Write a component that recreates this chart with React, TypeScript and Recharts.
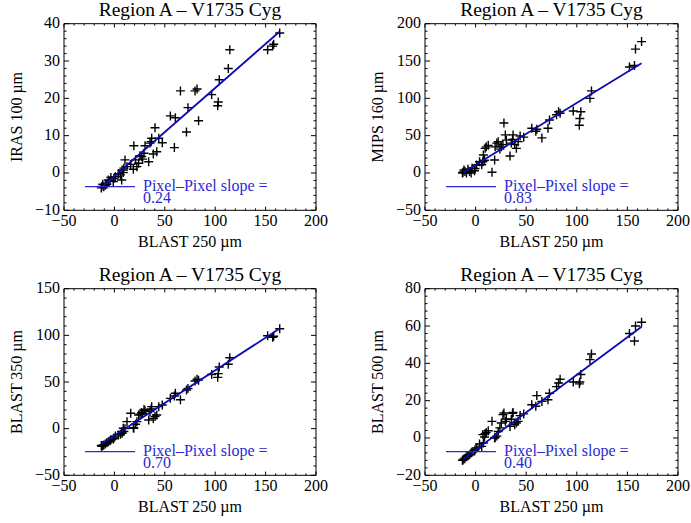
import React from "react";
import { ScatterChart, Scatter, XAxis, YAxis } from "recharts";

// BLAST 250 um pixel values, shared x for all four panels
const blast250 = [
  164, 158, 157, 152, 114.5, 113, 104, 103, 102.5, 96.5, 83.5, 82, 80, 73, 71.5,
  65.5, 60.5, 59.5, 55.5, 47.5, 44, 42, 40.3, 38.6, 37, 36.5, 35.3, 34, 30.4,
  29.4, 28, 27, 25.4, 24, 22.3, 21, 19.3, 18.8, 16.2, 12.5, 10.5, 9.4, 8.8, 7.7,
  7.2, 6, 3.9, 1, -0.5, -1.1, -3.5, -4.4, -6, -7.5, -9, -10.5, -11.5, -12.5, -13,
];
const iras100 = [
  37.5, 34.5, 34, 33, 33, 28, 25, 19, 18, 21, 14, 22.5, 22, 17.5, 11, 22, 14.8,
  6.8, 15.3, 8.1, 9.3, 5.7, 12.1, 5.1, 9.3, 8.4, 8, 3, 7.3, 5.3, 3.7, 4.4, 4.6,
  2.6, 1.7, 3.5, 7.3, 1, 2.3, 1.7, 3.5, 1.3, 0.1, 0.8, -1.9, -0.5, -0.2, -1,
  -1.5, -2.3, -1.2, -2.1, -1.9, -3, -3.3, -3.7, -3, -3.6, -4,
];
const mips160 = [
  176, 166, 144, 142, 110, 100, 82, 73, 64, 83, 80, 82, 78, 71, 60, 47, 58.5, 56,
  60, 48, 49.6, 42, 33, 38, 51, 45, 40, 22.8, 44, 51, 67, 38, 35, 32, 42, 40, 35,
  17.4, 1, 37, 35, 33, 17, 24, 15, 11, 15, 10.7, 6, 3, 6.3, 0, 2, 5, 0, 2, 4, 1, 0,
];
const blast350 = [
  107, 99, 98, 99.5, 76, 69, 66, 59, 55, 58, 52, 53, 51, 43, 41.5, 31, 38, 35,
  32.5, 25.4, 23.6, 14.7, 13, 11, 23.6, 21, 18.2, 9.3, 19.3, 20.5, 16.5, 17,
  15.5, 14.7, 7.5, 4.7, 0.4, 1, 16.5, 7.5, 0, -3, 0.4, -5, -3.2, -6, -6.7, -8,
  -10, -11, -12, -13, -14, -15, -16.5, -17.5, -18, -19, -18,
];
const blast500 = [
  62, 60, 52, 56, 45, 42, 34, 30, 29, 30, 31.5, 29.5, 27.5, 24, 20.5, 19.6, 22.7,
  17, 17.8, 12.9, 12, 8.9, 8, 7.1, 13.7, 13.2, 10, 6.2, 10.2, 8.9, 13.4, 12.5, 8,
  5.4, 3.5, 1, 0.3, 0, 8.9, 3.9, 3, 2.3, 0.5, -2.7, 1.8, -4.5, -3.2, -5.4, -6.3,
  -7, -7.5, -8, -9, -9.5, -10, -10.8, -11.2, -11.8, -12,
];

// pixel-pixel fit lines, read at both ends
const fitX = [-12, 164];
const iras100Fit = [-3.7, 37.9];
const mips160Fit = [1, 147];
const blast350Fit = [-16, 107.3];
const blast500Fit = [-11.2, 59.6];

const slopes = ["0.24", "0.83", "0.70", "0.40"];
const yLabels = ["IRAS 100 \u00b5m", "MIPS 160 \u00b5m", "BLAST 350 \u00b5m", "BLAST 500 \u00b5m"];
const title = "Region A \u2013 V1735 Cyg";
const xLabel = "BLAST 250 \u00b5m";

const xTicks = [-50, 0, 50, 100, 150, 200];
const yTicks1 = [-10, 0, 10, 20, 30, 40];
const yTicks2 = [-50, 0, 50, 100, 150, 200];
const yTicks3 = [-50, 0, 50, 100, 150];
const yTicks4 = [-20, 0, 20, 40, 60, 80];

const FONT = '"Liberation Serif", "Times New Roman", Times, serif';
const FIT_BLUE = "#0a0ab4";
const LEGEND_BLUE = "#2a2ad2";

const range = (a: number, b: number, step: number) => {
  const out: number[] = [];
  for (let v = a; v <= b + 1e-9; v += step) out.push(Math.round(v * 1000) / 1000);
  return out;
};

const fmt = (v: number) => (v < 0 ? `\u2212${Math.abs(v)}` : `${v}`);

type Side = "bottom" | "top" | "left" | "right";

// IDL style ticks: inside the box, major + minor, labels only bottom/left
const tickRenderer =
  (side: Side, majors: number[], majLen: number, minLen: number) =>
  (props: any) => {
    const { x, y, payload } = props;
    const v = payload.value;
    const major = majors.includes(v);
    const l = major ? majLen : minLen;
    let x2 = x;
    let y2 = y;
    if (side === "bottom") y2 = y - l;
    if (side === "top") y2 = y + l;
    if (side === "left") x2 = x + l;
    if (side === "right") x2 = x - l;
    return (
      <g>
        <line x1={x} y1={y} x2={x2} y2={y2} stroke="#000" strokeWidth={1} />
        {major && side === "bottom" && (
          <text x={x} y={y + 16} textAnchor="middle" fontSize={16} fontFamily={FONT} fill="#000">
            {fmt(v)}
          </text>
        )}
        {major && side === "left" && (
          <text x={x - 4} y={y + 4.5} textAnchor="end" fontSize={16} fontFamily={FONT} fill="#000">
            {fmt(v)}
          </text>
        )}
      </g>
    );
  };

const Plus = (props: any) => {
  const { cx, cy } = props;
  if (cx == null || cy == null) return <g />;
  const s = 4.5;
  return (
    <path
      d={`M${cx - s},${cy}H${cx + s}M${cx},${cy - s}V${cy + s}`}
      stroke="#000"
      strokeWidth={1.4}
      fill="none"
    />
  );
};

interface PanelProps {
  left: number;
  top: number;
  width: number;
  height: number;
  box: { top: number; right: number; bottom: number; left: number };
  ys: number[];
  fitY: number[];
  yDomain: [number, number];
  yMajor: number[];
  yMinorStep: number;
  yLabel: string;
  slope: string;
}

const Panel: React.FC<PanelProps> = ({
  left,
  top,
  width,
  height,
  box,
  ys,
  fitY,
  yDomain,
  yMajor,
  yMinorStep,
  yLabel,
  slope,
}) => {
  const points = blast250.map((x, i) => ({ x, y: ys[i] }));
  const fit = fitX.map((x, i) => ({ x, y: fitY[i] }));
  const xAll = range(-50, 200, 10);
  const yAll = range(yDomain[0], yDomain[1], yMinorStep);
  // each axis takes 1px, so margins are the box offsets minus 1
  const margin = {
    top: box.top - 1,
    right: box.right - 1,
    bottom: box.bottom - 1,
    left: box.left - 1,
  };

  const xCommon = {
    type: "number" as const,
    dataKey: "x",
    domain: [-50, 200] as [number, number],
    ticks: xAll,
    interval: 0 as const,
    height: 1,
    tickSize: 0,
    tickMargin: 0,
    tickLine: false,
    allowDataOverflow: true,
    axisLine: { stroke: "#000", strokeWidth: 1 },
  };
  const yCommon = {
    type: "number" as const,
    dataKey: "y",
    domain: yDomain,
    ticks: yAll,
    interval: 0 as const,
    width: 1,
    tickSize: 0,
    tickMargin: 0,
    tickLine: false,
    allowDataOverflow: true,
    axisLine: { stroke: "#000", strokeWidth: 1 },
  };

  return (
    <div style={{ position: "absolute", left, top, width, height }}>
      <ScatterChart width={width} height={height} margin={margin}>
        <XAxis
          {...xCommon}
          xAxisId="b"
          orientation="bottom"
          tick={tickRenderer("bottom", xTicks, 3.7, 1.9)}
          label={{
            content: (p: any) => {
              const vb = p.viewBox || {};
              return (
                <text
                  x={vb.x + vb.width / 2}
                  y={vb.y + 36.5}
                  textAnchor="middle"
                  fontSize={16}
                  fontFamily={FONT}
                  fill="#000"
                >
                  {xLabel}
                </text>
              );
            },
          }}
        />
        <XAxis
          {...xCommon}
          xAxisId="t"
          orientation="top"
          tick={tickRenderer("top", xTicks, 3.7, 1.9)}
          label={{
            content: (p: any) => {
              const vb = p.viewBox || {};
              return (
                <text
                  x={vb.x + vb.width / 2}
                  y={vb.y + 1 - 7.5}
                  textAnchor="middle"
                  fontSize={19.5}
                  fontFamily={FONT}
                  fill="#000"
                >
                  {title}
                </text>
              );
            },
          }}
        />
        <YAxis
          {...yCommon}
          yAxisId="l"
          orientation="left"
          tick={tickRenderer("left", yMajor, 5, 2.5)}
          label={{
            content: (p: any) => {
              const vb = p.viewBox || {};
              const bx = vb.x + 1 - 42;
              const cy = vb.y + vb.height / 2;
              return (
                <text
                  x={bx}
                  y={cy}
                  transform={`rotate(-90, ${bx}, ${cy})`}
                  textAnchor="middle"
                  fontSize={16}
                  fontFamily={FONT}
                  fill="#000"
                >
                  {yLabel}
                </text>
              );
            },
          }}
        />
        <YAxis
          {...yCommon}
          yAxisId="r"
          orientation="right"
          tick={tickRenderer("right", yMajor, 5, 2.5)}
        />
        <Scatter
          data={points}
          xAxisId="t"
          yAxisId="r"
          shape={() => <g />}
          isAnimationActive={false}
        />
        <Scatter
          data={points}
          xAxisId="b"
          yAxisId="l"
          shape={(p: any) => <Plus {...p} />}
          isAnimationActive={false}
        />
        <Scatter
          data={fit}
          xAxisId="b"
          yAxisId="l"
          line={{ stroke: FIT_BLUE, strokeWidth: 1.8 }}
          shape={() => <g />}
          isAnimationActive={false}
        />
      </ScatterChart>
      <svg
        width={width}
        height={height}
        style={{ position: "absolute", left: 0, top: 0, pointerEvents: "none" }}
      >
        <line
          x1={box.left + 21}
          x2={box.left + 71}
          y1={box.top + 163}
          y2={box.top + 163}
          stroke={LEGEND_BLUE}
          strokeWidth={1.2}
        />
        <text x={box.left + 79} y={box.top + 167} fontSize={16} fontFamily={FONT} fill={LEGEND_BLUE}>
          {"Pixel\u2013Pixel slope ="}
        </text>
        <text x={box.left + 79} y={box.top + 179.5} fontSize={16} fontFamily={FONT} fill={LEGEND_BLUE}>
          {slope}
        </text>
      </svg>
    </div>
  );
};

export default function App() {
  const topB = { top: 23.7, bottom: 51.7 };
  const botB = { top: 26.7, bottom: 47.7 };
  return (
    <div
      style={{
        position: "absolute",
        left: 0,
        top: 0,
        width: 691,
        height: 523,
        background: "#fff",
        fontFamily: FONT,
      }}
    >
      <Panel
        left={0}
        top={0}
        width={345}
        height={262}
        box={{ ...topB, left: 64, right: 29 }}
        ys={iras100}
        fitY={iras100Fit}
        yDomain={[-10, 40]}
        yMajor={yTicks1}
        yMinorStep={2}
        yLabel={yLabels[0]}
        slope={slopes[0]}
      />
      <Panel
        left={345}
        top={0}
        width={346}
        height={262}
        box={{ ...topB, left: 80, right: 13 }}
        ys={mips160}
        fitY={mips160Fit}
        yDomain={[-50, 200]}
        yMajor={yTicks2}
        yMinorStep={10}
        yLabel={yLabels[1]}
        slope={slopes[1]}
      />
      <Panel
        left={0}
        top={262}
        width={345}
        height={261}
        box={{ ...botB, left: 64, right: 29 }}
        ys={blast350}
        fitY={blast350Fit}
        yDomain={[-50, 150]}
        yMajor={yTicks3}
        yMinorStep={10}
        yLabel={yLabels[2]}
        slope={slopes[2]}
      />
      <Panel
        left={345}
        top={262}
        width={346}
        height={261}
        box={{ ...botB, left: 80, right: 13 }}
        ys={blast500}
        fitY={blast500Fit}
        yDomain={[-20, 80]}
        yMajor={yTicks4}
        yMinorStep={4}
        yLabel={yLabels[3]}
        slope={slopes[3]}
      />
    </div>
  );
}
